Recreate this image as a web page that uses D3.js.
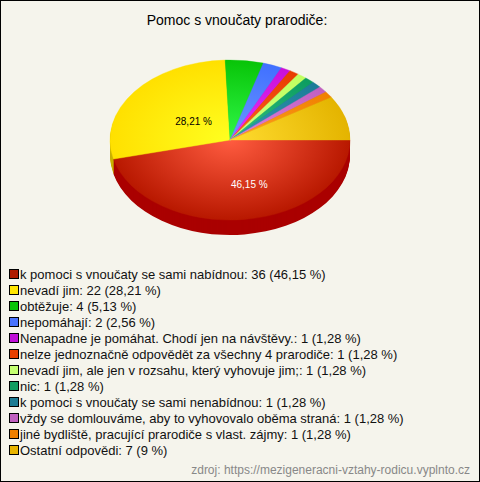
<!DOCTYPE html>
<html><head><meta charset="utf-8">
<script src="https://cdn.jsdelivr.net/npm/d3@7"></script>
<style>html,body{margin:0;padding:0;background:#f5f4ec}svg{display:block}text{font-family:"Liberation Sans",Arial,sans-serif}</style>
</head><body><script>
const title = "Pomoc s vnoučaty prarodiče:";
const categories = ["k pomoci s vnoučaty se sami nabídnou","nevadí jim","obtěžuje","nepomáhají","Nenapadne je pomáhat. Chodí jen na návštěvy.","nelze jednoznačně odpovědět za všechny 4 prarodiče","nevadí jim, ale jen v rozsahu, který vyhovuje jim;","nic","k pomoci s vnoučaty se sami nenabídnou","vždy se domlouváme, aby to vyhovovalo oběma straná","jiné bydliště, pracující prarodiče s vlast. zájmy","Ostatní odpovědi"];
const values = [36,22,4,2,1,1,1,1,1,1,1,7];
const percents = ["46,15 %","28,21 %","5,13 %","2,56 %","1,28 %","1,28 %","1,28 %","1,28 %","1,28 %","1,28 %","1,28 %","9 %"];
const swatch = ["#b01c00","#ffe600","#08c408","#4a74ff","#c010d8","#e84000","#c4ff70","#109c60","#1c7c94","#c060c0","#f08000","#e8b400"];
const inner  = ["#ff5c40","#ffff20","#30f848","#6c98ff","#e830ff","#ff6020","#d0ff80","#30c080","#3098b0","#e080e0","#ffa020","#ffdc30"];
const outer  = ["#b81800","#ffe000","#08c408","#4070ff","#c810d8","#e83c00","#c0ff60","#0c9c60","#1c7c98","#c060c0","#f08000","#e4b400"];
const side   = ["#aa0000","#c8b000","#08a008","#3058d0","#a010b0","#c03000","#a0d050","#0c8050","#186880","#a050a0","#c86800","#c09800"];
const labelled = [0,1];
const footer = "zdroj: https://mezigeneracni-vztahy-rodicu.vyplnto.cz";

const W=480,H=482,cx=230,cy=140,rx=120,ry=80,depth=15;
const svg=d3.select("body").append("svg").attr("width",W).attr("height",H);
svg.append("rect").attr("width",W).attr("height",H).attr("fill","#f5f4ec");
const defs=svg.append("defs");
inner.forEach((c,i)=>{
  const g=defs.append("radialGradient").attr("id","g"+i).attr("gradientUnits","userSpaceOnUse")
    .attr("cx",0).attr("cy",0).attr("r",1);
  g.append("stop").attr("offset","0").attr("stop-color",c);
  g.append("stop").attr("offset","1").attr("stop-color",outer[i]);
});
const pie=d3.pie().sort(null).value(d=>d).startAngle(Math.PI/2).endAngle(Math.PI/2+2*Math.PI);
const arcs=pie(values);
const arc=d3.arc().innerRadius(0).outerRadius(1);
// side wall: stacked copies of the ellipse, from the bottom up
const gSide=svg.append("g");
d3.range(depth,0,-1).forEach(dy=>{
  gSide.append("g").attr("transform",`translate(${cx},${cy+dy}) scale(${rx},${ry})`)
   .selectAll("path").data(arcs).join("path").attr("d",arc).attr("fill",(d,i)=>side[i]);
});
svg.append("g").attr("transform",`translate(${cx},${cy}) scale(${rx},${ry})`)
  .selectAll("path").data(arcs).join("path").attr("d",arc).attr("fill",(d,i)=>`url(#g${i})`)
  .attr("stroke",(d,i)=>`url(#g${i})`).attr("stroke-width",0.004);
labelled.forEach(i=>{
  const a=(arcs[i].startAngle+arcs[i].endAngle)/2-Math.PI/2;
  svg.append("text").attr("x",cx+rx*.55*Math.cos(a)).attr("y",cy+ry*.55*Math.sin(a))
   .attr("dx",i==0?-7:-2).attr("dy",i==0?4:11).attr("font-size",10)
   .attr("fill",i==0?"#fff":"#000").text(percents[i]);
});
svg.append("text").attr("x",237).attr("y",25).attr("text-anchor","middle").attr("font-size",14).attr("fill","#000").text(title);
const rowY=d3.scalePoint().domain(d3.range(values.length)).range([274,450]);
const rows=svg.append("g").selectAll("g").data(categories).join("g").attr("transform",(d,i)=>`translate(0,${rowY(i)})`);
rows.append("rect").attr("x",9.5).attr("y",-4.5).attr("width",9).attr("height",9).attr("fill",(d,i)=>swatch[i]).attr("stroke","#000");
rows.append("text").attr("x",20).attr("y",5).attr("font-size",13).attr("fill","#111")
  .text((d,i)=>`${d}: ${values[i]} (${percents[i]})`);
svg.append("text").attr("x",470).attr("y",474).attr("text-anchor","end").attr("font-size",12).attr("fill","#888").text(footer);
svg.append("rect").attr("x",.5).attr("y",.5).attr("width",W-1).attr("height",H-1).attr("fill","none").attr("stroke","#000");
</script></body></html>
